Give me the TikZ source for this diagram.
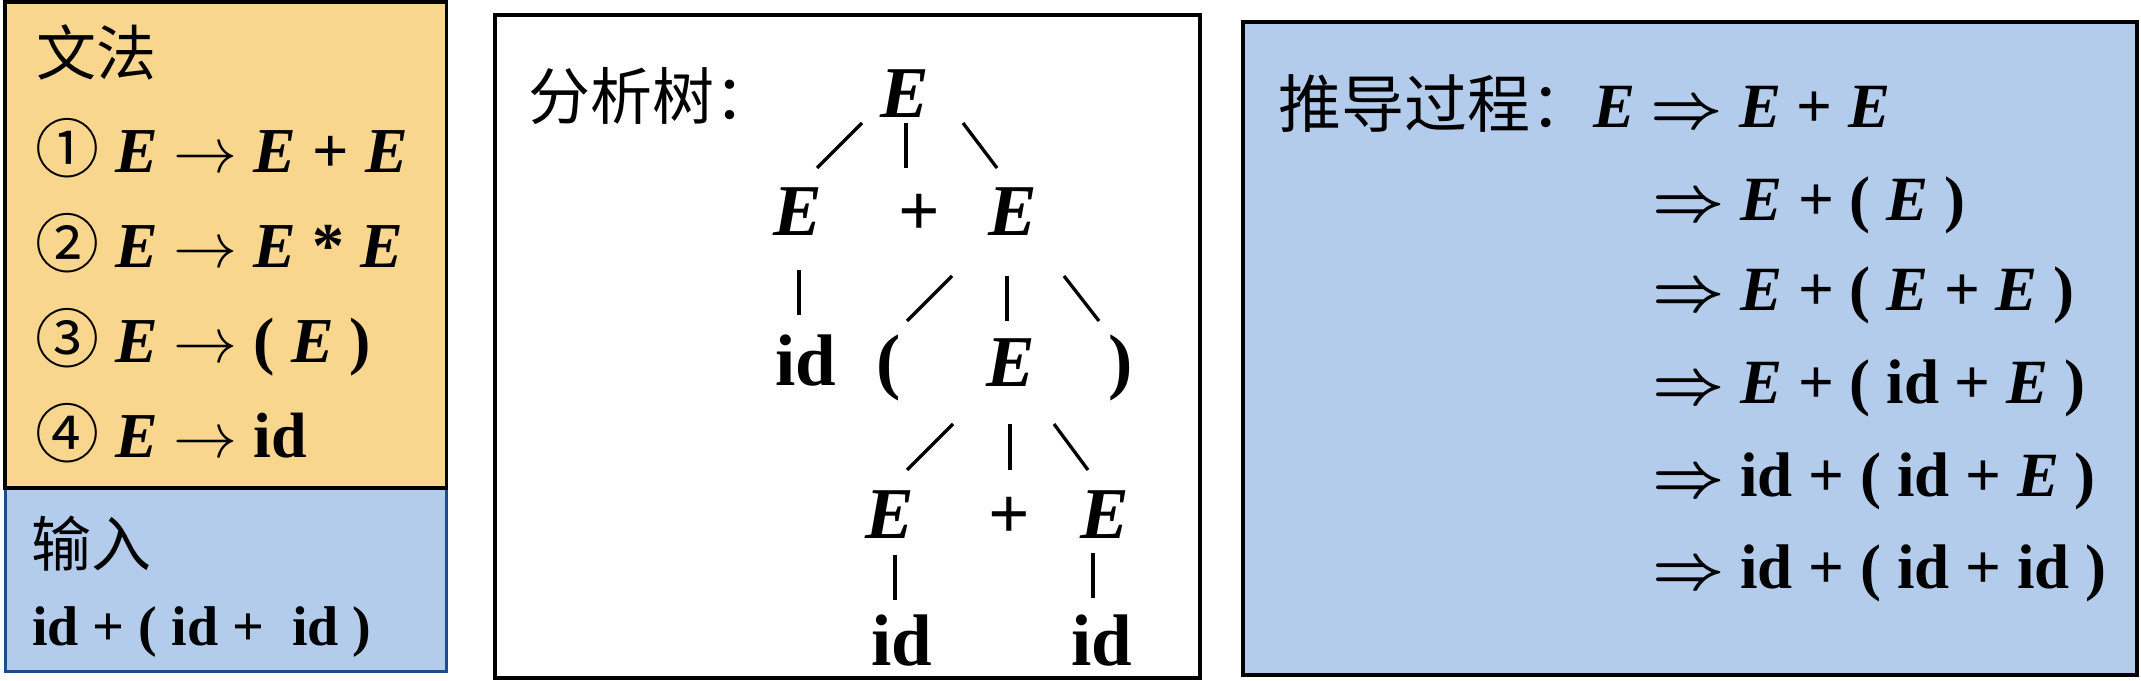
\RequirePackage{fix-cm}
\documentclass[tikz,border=0pt]{standalone}
\usepackage{fontspec}
\setmainfont{Liberation Serif}
\newfontfamily\cjk[BoldFont={Noto Sans CJK SC}]{Noto Sans CJK SC}
\definecolor{orangefill}{RGB}{248,214,141}
\definecolor{bluefill}{RGB}{180,204,235}
\definecolor{blueline}{RGB}{30,75,140}
\newcommand{\VarE}{{\bfseries\itshape E}}
\newcommand{\DerivArrow}{{\boldmath$\Rightarrow$}}
\tikzset{
  lt/.style={inner sep=0pt, anchor=base west, font=\fontsize{64}{70}\selectfont\bfseries},
  cjklabel/.style={inner sep=0pt, anchor=base west, font=\fontsize{60}{66}\selectfont\cjk},
  inp/.style={inner sep=0pt, anchor=base west, font=\fontsize{56}{62}\selectfont\bfseries},
  tn/.style={inner sep=0pt, anchor=base, font=\fontsize{73}{80}\selectfont\bfseries},
  rt/.style={inner sep=0pt, anchor=base west, font=\fontsize{63}{70}\selectfont\bfseries},
  edge/.style={line width=3.3pt, black},
  panel/.style={line width=4pt, draw=black}
}
\begin{document}
\begin{tikzpicture}[x=1pt, y=-1pt]
\useasboundingbox (0,0) rectangle (2141,680);
% panels
\draw[line width=3pt, draw=blueline, fill=bluefill] (5,486) rectangle (446.5,671.5);
\draw[panel, line width=3.5pt, fill=orangefill] (5,1.8) rectangle (446.5,488);
\draw[panel, fill=white] (495,15) rectangle (1199.5,677.5);
\draw[panel, fill=bluefill] (1242.5,21.5) rectangle (2137,675);

% grammar panel
\node[cjklabel] (gtitle) at (36,75) {文法};
\node[lt] (g1) at (35,172) {{\cjk\mdseries ①} \VarE{} $\rightarrow$ \VarE{} + \VarE};
\node[lt] (g2) at (35,267) {{\cjk\mdseries ②} \VarE{} $\rightarrow$ \VarE{} * \VarE};
\node[lt] (g3) at (35,362) {{\cjk\mdseries ③} \VarE{} $\rightarrow$ ( \VarE{} )};
\node[lt] (g4) at (35,457) {{\cjk\mdseries ④} \VarE{} $\rightarrow$ id};
\node[cjklabel] (intitle) at (31,566) {输入};
\node[inp] (input) at (32,645) {id + ( id +\ \ id )};

% parse tree panel
\node[inner sep=0pt, anchor=base west, font=\fontsize{62}{68}\selectfont\cjk] (ttitle) at (528,119) {分析树：};
\node[tn] (root) at (905,117) {\VarE};
\node[tn] (l2a) at (798,235) {\VarE};
\node[tn] (l2b) at (919,235) {+};
\node[tn] (l2c) at (1013,235) {\VarE};
\node[tn] (l3a) at (806,385) {id};
\node[tn] (l3b) at (889,385) {(};
\node[tn] (l3c) at (1011,386) {\VarE};
\node[tn] (l3d) at (1121,385) {)};
\node[tn] (l4a) at (890,538) {\VarE};
\node[tn] (l4b) at (1009,538) {+};
\node[tn] (l4c) at (1105,538) {\VarE};
\node[tn] (l5a) at (902,665) {id};
\node[tn] (l5b) at (1102,665) {id};

\draw[edge] ([shift={(-43,6)}]root.base) -- ([shift={(19,-67)}]l2a.base);
\draw[edge] ([shift={(1,6)}]root.base) -- ([shift={(-13,-67)}]l2b.base);
\draw[edge] ([shift={(58,6)}]root.base) -- ([shift={(-16,-67)}]l2c.base);
\draw[edge] ([shift={(1,35)}]l2a.base) -- ([shift={(-7,-70)}]l3a.base);
\draw[edge] ([shift={(-61,41)}]l2c.base) -- ([shift={(18,-64)}]l3b.base);
\draw[edge] ([shift={(-6,41)}]l2c.base) -- ([shift={(-4,-65)}]l3c.base);
\draw[edge] ([shift={(51,41)}]l2c.base) -- ([shift={(-22,-64)}]l3d.base);
\draw[edge] ([shift={(-58,38)}]l3c.base) -- ([shift={(17,-68)}]l4a.base);
\draw[edge] ([shift={(-1,38)}]l3c.base) -- ([shift={(1,-68)}]l4b.base);
\draw[edge] ([shift={(43,38)}]l3c.base) -- ([shift={(-17,-68)}]l4c.base);
\draw[edge] ([shift={(5,17)}]l4a.base) -- ([shift={(-7,-65)}]l5a.base);
\draw[edge] ([shift={(-12,15)}]l4c.base) -- ([shift={(-9,-67)}]l5b.base);

% derivation panel
\node[rt] (d1) at (1278,127) {{\cjk\mdseries 推导过程：}\VarE{} \DerivArrow{} \VarE{} + \VarE};
\node[rt] (d2) at (1652,220) {\DerivArrow{} \VarE{} + ( \VarE{} )};
\node[rt] (d3) at (1652,310) {\DerivArrow{} \VarE{} + ( \VarE{} + \VarE{} )};
\node[rt] (d4) at (1652,403) {\DerivArrow{} \VarE{} + ( id + \VarE{} )};
\node[rt] (d5) at (1652,496) {\DerivArrow{} id + ( id + \VarE{} )};
\node[rt] (d6) at (1652,588) {\DerivArrow{} id + ( id + id )};
\end{tikzpicture}
\end{document}
